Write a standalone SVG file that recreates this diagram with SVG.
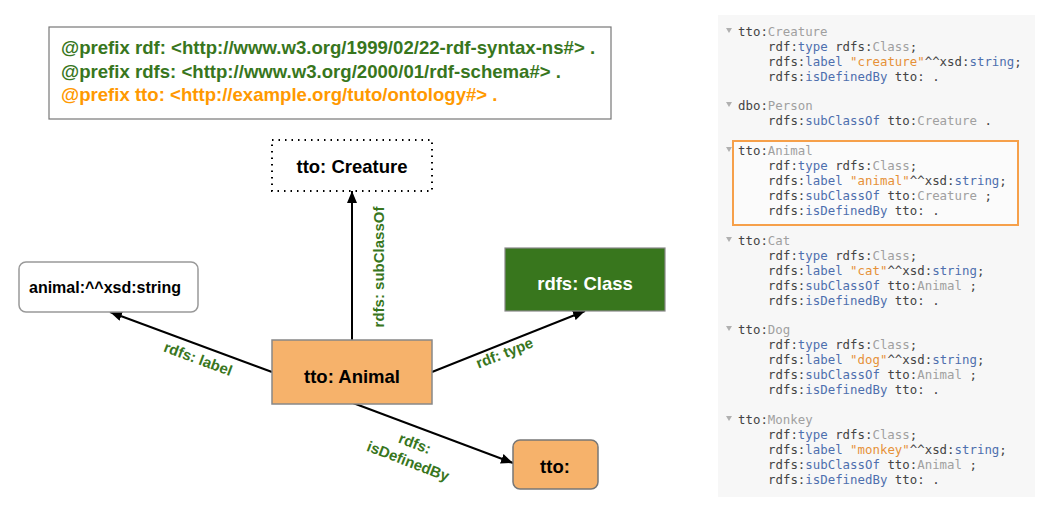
<svg xmlns="http://www.w3.org/2000/svg" width="1063" height="516" viewBox="0 0 1063 516">
<defs>
<marker id="ah" markerWidth="12" markerHeight="10" refX="12" refY="5" orient="auto" markerUnits="userSpaceOnUse">
<path d="M0,0 L12,5 L0,10 Z" fill="#000"/>
</marker>
<style>
.nt{font-family:"Liberation Sans",Arial,sans-serif;font-weight:bold;font-size:18.5px;text-anchor:middle;fill:#000}
.el{font-family:"Liberation Sans",Arial,sans-serif;font-weight:bold;font-size:15px;fill:#38761d;text-anchor:middle}
.pf{font-family:"Liberation Sans",Arial,sans-serif;font-weight:bold;font-size:18.6px}
.edge{stroke:#000;stroke-width:2;fill:none;marker-end:url(#ah)}
.tr{font-family:"DejaVu Sans Mono",monospace;font-size:12.4px;fill:#444;white-space:pre}
.g{fill:#a0a0a0}
.b{fill:#4e6fae}
.o{fill:#e69138}
.tri{fill:#b0b0b0}
</style>
</defs>
<rect width="1063" height="516" fill="#fff"/>

<g id="prefixes">
<rect x="49" y="27" width="562" height="92" fill="#fff" stroke="#777" stroke-width="1.2"/>
<text class="pf" x="61" y="54" fill="#38761d">@prefix rdf: &lt;http://www.w3.org/1999/02/22-rdf-syntax-ns#&gt; .</text>
<text class="pf" x="61" y="78" fill="#38761d">@prefix rdfs: &lt;http://www.w3.org/2000/01/rdf-schema#&gt; .</text>
<text class="pf" x="61" y="101" fill="#ff9900">@prefix tto: &lt;http://example.org/tuto/ontology#&gt; .</text>
</g>

<g id="connectors">
<line class="edge" x1="352" y1="340" x2="352" y2="191"/>
<line class="edge" x1="272" y1="372" x2="110" y2="312"/>
<line class="edge" x1="432" y1="372" x2="585" y2="311"/>
<line class="edge" x1="353" y1="403" x2="513" y2="463"/>
<text class="el" transform="translate(384,267) rotate(-90)">rdfs: subClassOf</text>
<text class="el" transform="translate(198,359) rotate(20.3)" y="5">rdfs: label</text>
<text class="el" transform="translate(505,354) rotate(-21.5)" y="4">rdf: type</text>
<g transform="translate(411.5,452.5) rotate(21)">
<text class="el" y="-4.5">rdfs:</text>
<text class="el" y="14.5">isDefinedBy</text>
</g>
</g>

<g id="creature">
<rect x="272" y="140" width="160" height="51" fill="#fff" stroke="#000" stroke-width="2" stroke-dasharray="1.5,5"/>
<text class="nt" x="352" y="173">tto: Creature</text>
</g>

<g id="literal">
<rect x="19" y="262" width="179" height="50" rx="7" fill="#fff" stroke="#999" stroke-width="1.5"/>
<text class="nt" x="29" y="293" style="font-size:16px;text-anchor:start">animal:^^xsd:string</text>
</g>

<g id="class">
<rect x="505" y="248" width="160" height="63" fill="#38761d" stroke="#888" stroke-width="1.2"/>
<text class="nt" x="585" y="290" style="fill:#fff">rdfs: Class</text>
</g>

<g id="animal">
<rect x="272" y="340" width="160" height="64" fill="#f6b26b" stroke="#888" stroke-width="1.5"/>
<text class="nt" x="352" y="383">tto: Animal</text>
</g>

<g id="tto">
<rect x="513" y="440" width="85" height="49" rx="7" fill="#f6b26b" stroke="#777" stroke-width="1.5"/>
<text class="nt" x="555" y="473">tto:</text>
</g>

<g id="turtle-panel">
<rect x="718" y="15" width="317" height="482" fill="#f7f7f7"/>
<rect x="733" y="141" width="285" height="84" fill="#fbfbfb" stroke="#f6a04a" stroke-width="2"/>

<polygon class="tri" points="726,28 732,28 729,33"/>
<text class="tr" x="738" y="36">tto:<tspan class="g">Creature</tspan></text>
<text class="tr" x="768" y="51">rdf:<tspan class="b">type</tspan> rdfs:<tspan class="g">Class</tspan>;</text>
<text class="tr" x="768" y="66">rdfs:<tspan class="b">label</tspan> <tspan class="o">"creature"</tspan>^^xsd:<tspan class="b">string</tspan>;</text>
<text class="tr" x="768" y="81">rdfs:<tspan class="b">isDefinedBy</tspan> tto: .</text>

<polygon class="tri" points="726,102 732,102 729,107"/>
<text class="tr" x="738" y="110">dbo:<tspan class="g">Person</tspan></text>
<text class="tr" x="768" y="125">rdfs:<tspan class="b">subClassOf</tspan> tto:<tspan class="g">Creature</tspan> .</text>

<polygon class="tri" points="726,147 732,147 729,152"/>
<text class="tr" x="738" y="155">tto:<tspan class="g">Animal</tspan></text>
<text class="tr" x="768" y="170">rdf:<tspan class="b">type</tspan> rdfs:<tspan class="g">Class</tspan>;</text>
<text class="tr" x="768" y="185">rdfs:<tspan class="b">label</tspan> <tspan class="o">"animal"</tspan>^^xsd:<tspan class="b">string</tspan>;</text>
<text class="tr" x="768" y="200">rdfs:<tspan class="b">subClassOf</tspan> tto:<tspan class="g">Creature</tspan> ;</text>
<text class="tr" x="768" y="215">rdfs:<tspan class="b">isDefinedBy</tspan> tto: .</text>

<polygon class="tri" points="726,237 732,237 729,242"/>
<text class="tr" x="738" y="245">tto:<tspan class="g">Cat</tspan></text>
<text class="tr" x="768" y="260">rdf:<tspan class="b">type</tspan> rdfs:<tspan class="g">Class</tspan>;</text>
<text class="tr" x="768" y="275">rdfs:<tspan class="b">label</tspan> <tspan class="o">"cat"</tspan>^^xsd:<tspan class="b">string</tspan>;</text>
<text class="tr" x="768" y="290">rdfs:<tspan class="b">subClassOf</tspan> tto:<tspan class="g">Animal</tspan> ;</text>
<text class="tr" x="768" y="305">rdfs:<tspan class="b">isDefinedBy</tspan> tto: .</text>

<polygon class="tri" points="726,326 732,326 729,331"/>
<text class="tr" x="738" y="334">tto:<tspan class="g">Dog</tspan></text>
<text class="tr" x="768" y="349">rdf:<tspan class="b">type</tspan> rdfs:<tspan class="g">Class</tspan>;</text>
<text class="tr" x="768" y="364">rdfs:<tspan class="b">label</tspan> <tspan class="o">"dog"</tspan>^^xsd:<tspan class="b">string</tspan>;</text>
<text class="tr" x="768" y="379">rdfs:<tspan class="b">subClassOf</tspan> tto:<tspan class="g">Animal</tspan> ;</text>
<text class="tr" x="768" y="394">rdfs:<tspan class="b">isDefinedBy</tspan> tto: .</text>

<polygon class="tri" points="726,416 732,416 729,421"/>
<text class="tr" x="738" y="424">tto:<tspan class="g">Monkey</tspan></text>
<text class="tr" x="768" y="439">rdf:<tspan class="b">type</tspan> rdfs:<tspan class="g">Class</tspan>;</text>
<text class="tr" x="768" y="454">rdfs:<tspan class="b">label</tspan> <tspan class="o">"monkey"</tspan>^^xsd:<tspan class="b">string</tspan>;</text>
<text class="tr" x="768" y="469">rdfs:<tspan class="b">subClassOf</tspan> tto:<tspan class="g">Animal</tspan> ;</text>
<text class="tr" x="768" y="484">rdfs:<tspan class="b">isDefinedBy</tspan> tto: .</text>
</g>
</svg>
